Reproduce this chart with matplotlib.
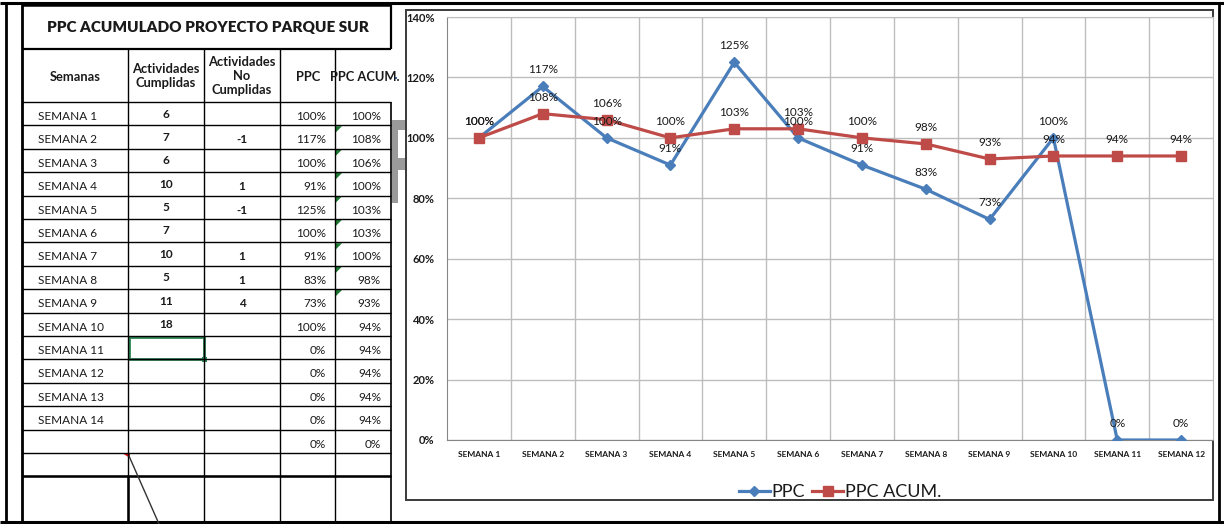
import matplotlib
matplotlib.use("Agg")

import matplotlib.pyplot as plt
from matplotlib.lines import Line2D
from matplotlib.patches import Polygon, Rectangle
from matplotlib.ticker import FuncFormatter

plt.rcParams['font.family'] = ['Lato', 'DejaVu Sans']

# table data (as shown on the sheet)
semanas = ["SEMANA 1", "SEMANA 2", "SEMANA 3", "SEMANA 4", "SEMANA 5", "SEMANA 6", "SEMANA 7",
           "SEMANA 8", "SEMANA 9", "SEMANA 10", "SEMANA 11", "SEMANA 12", "SEMANA 13", "SEMANA 14", ""]
cumplidas = ["6", "7", "6", "10", "5", "7", "10", "5", "11", "18", "", "", "", "", ""]
no_cumplidas = ["", "-1", "", "1", "-1", "", "1", "1", "4", "", "", "", "", "", ""]
ppc_tabla = ["100%", "117%", "100%", "91%", "125%", "100%", "91%", "83%", "73%", "100%",
             "0%", "0%", "0%", "0%", "0%"]
acum_tabla = ["100%", "108%", "106%", "100%", "103%", "103%", "100%", "98%", "93%", "94%",
              "94%", "94%", "94%", "94%", "0%"]

# chart data
categorias = ["SEMANA 1", "SEMANA 2", "SEMANA 3", "SEMANA 4", "SEMANA 5", "SEMANA 6",
              "SEMANA 7", "SEMANA 8", "SEMANA 9", "SEMANA 10", "SEMANA 11", "SEMANA 12"]
ppc = [1.00, 1.17, 1.00, 0.91, 1.25, 1.00, 0.91, 0.83, 0.73, 1.00, 0.0, 0.0]
ppc_acum = [1.00, 1.08, 1.06, 1.00, 1.03, 1.03, 1.00, 0.98, 0.93, 0.94, 0.94, 0.94]

W, H = 1224, 524
BLUE = "#4a7ebb"
RED = "#be4b48"
TXT = "#1a1a1a"

fig = plt.figure(figsize=(W / 100, H / 100), dpi=100)

# overlay in pixel coordinates for the sheet / table
ax0 = fig.add_axes([0, 0, 1, 1])
ax0.set_xlim(0, W)
ax0.set_ylim(H, 0)
ax0.axis("off")


def hline(x0, x1, y, lw=1.0, c="black"):
    ax0.add_line(Line2D([x0, x1], [y, y], lw=lw, color=c, solid_capstyle="butt"))


def vline(x, y0, y1, lw=1.0, c="black"):
    ax0.add_line(Line2D([x, x], [y0, y1], lw=lw, color=c, solid_capstyle="butt"))


# sheet borders
hline(0, W, 3, lw=2.2)
hline(0, W, 522, lw=2.2)
vline(6, 3, 522, lw=2.0)
vline(22, 3, 522, lw=2.0)
vline(1219, 3, 522, lw=2.0)

# table grid
cols = [22, 128, 204, 280, 335, 391]
row_top = 102
row_h = 23.4
n_rows = 16
# title box
hline(22, 391, 5, lw=1.8)
hline(22, 391, 49, lw=1.6)
vline(391, 5, 49, lw=1.6)
# header separators
for x in cols[1:5]:
    vline(x, 49, 522, lw=1.0)
vline(391, row_top, 522, lw=1.2)
for k in range(n_rows + 1):
    hline(22, 391, row_top + k * row_h, lw=1.0)
y_bot = row_top + n_rows * row_h
hline(22, 391, y_bot, lw=1.8)
vline(128, y_bot, 522, lw=1.8)

ax0.text(208, 27, "PPC ACUMULADO PROYECTO PARQUE SUR", fontsize=11, fontweight="heavy",
         ha="center", va="center", color=TXT)
hdr_kw = dict(fontsize=9.3, fontweight="bold", ha="center", va="center", color=TXT,
              linespacing=1.2)
ax0.text(75, 77, "Semanas", **hdr_kw)
ax0.text(166, 76, "Actividades\nCumplidas", **hdr_kw)
ax0.text(242, 76, "Actividades\nNo\nCumplidas", **hdr_kw)
ax0.text(308, 77, "PPC", **hdr_kw)
ax0.text(365, 77, "PPC ACUM.", **hdr_kw)

for i in range(len(semanas)):
    yt = row_top + i * row_h
    ax0.text(38, yt + 14.5, semanas[i], fontsize=8.5, ha="left", va="center", color=TXT)
    ax0.text(166, yt + 12, cumplidas[i], fontsize=8.5, fontweight="bold", ha="center",
             va="center", color=TXT)
    ax0.text(242, yt + 14.5, no_cumplidas[i], fontsize=8.5, fontweight="bold", ha="center",
             va="center", color=TXT)
    ax0.text(326, yt + 14.5, ppc_tabla[i], fontsize=8.5, ha="right", va="center", color=TXT)
    ax0.text(381, yt + 14.5, acum_tabla[i], fontsize=8.5, ha="right", va="center", color=TXT)
    if 1 <= i <= 8:
        ax0.add_patch(Polygon([[336, yt + 0.8], [342, yt + 0.8], [336, yt + 6.8]],
                              closed=True, color="#1e7b34", lw=0))

# selected cell
ax0.add_patch(Rectangle((128.5, row_top + 10 * row_h + 1), 75, row_h - 1.5, fill=False,
                        ec="#2f8555", lw=2.0))
ax0.add_patch(Rectangle((201.5, row_top + 11 * row_h - 2.5), 5, 5, color="#2f8555", lw=0))

# comment marker and arrow
ax0.add_patch(Polygon([[122, row_top + 15 * row_h - 0.5], [130, row_top + 15 * row_h - 0.5],
                       [130, row_top + 15 * row_h + 5]], closed=True, color="#e00000", lw=0))
ax0.add_line(Line2D([129, 159], [456, 524], lw=1.0, color="#333333"))

# grey shape peeking out behind the chart
ax0.add_patch(Polygon([[392, 120], [406, 120], [406, 130], [398, 130], [398, 158], [406, 158],
                       [406, 170], [398, 170], [398, 203], [392, 203]],
                      closed=True, color="#9a9a9a", lw=0))
ax0.add_patch(Rectangle((395, 76.5), 2, 2, color="#3a6fb0", lw=0))

# chart border
ax0.add_patch(Rectangle((406, 10), 1213 - 406, 500 - 10, fill=False, ec="#3a3a3a", lw=1.4))

# chart
px0, px1, py0, py1 = 447, 1213, 17, 440
ax = fig.add_axes([px0 / W, 1 - py1 / H, (px1 - px0) / W, (py1 - py0) / H])
ax.set_facecolor("white")
x = list(range(len(categorias)))
ax.plot(x, ppc, color=BLUE, lw=2.3, marker="D", ms=5.5, mec=BLUE, mfc=BLUE,
        label="PPC", zorder=3)
ax.plot(x, ppc_acum, color=RED, lw=2.3, marker="s", ms=6.5, mec=RED, mfc=RED,
        label="PPC ACUM.", zorder=4)

for xi, v in zip(x, ppc):
    ax.annotate(f"{v * 100:.0f}%", (xi, v), xytext=(0, 12), textcoords="offset points",
                ha="center", va="center", fontsize=8.5, color=TXT, zorder=5)
for xi, v in zip(x, ppc_acum):
    ax.annotate(f"{v * 100:.0f}%", (xi, v), xytext=(0, 12), textcoords="offset points",
                ha="center", va="center", fontsize=8.5, color=TXT, zorder=5)

ax.set_xlim(-0.5, len(categorias) - 0.5)
ax.set_ylim(0, 1.4)
ax.set_yticks([0, 0.2, 0.4, 0.6, 0.8, 1.0, 1.2, 1.4])
ax.yaxis.set_major_formatter(FuncFormatter(lambda v, p: f"{v * 100:.0f}%"))
ax.set_xticks(x)
ax.set_xticklabels(categorias)
ax.set_xticks([i + 0.5 for i in x[:-1]], minor=True)
ax.grid(True, which="major", axis="y", color="#bdbdbd", lw=1.0)
ax.grid(True, which="minor", axis="x", color="#bdbdbd", lw=1.0)
ax.set_axisbelow(True)
ax.tick_params(axis="x", which="both", length=0, pad=8, labelsize=6, labelcolor=TXT)
ax.tick_params(axis="y", length=0, pad=9, labelsize=8, labelcolor=TXT)
for lab in ax.get_xticklabels() + ax.get_yticklabels():
    lab.set_fontweight("bold")
for s in ["top", "right"]:
    ax.spines[s].set_color("#bdbdbd")
ax.spines["left"].set_color("#868686")
ax.spines["bottom"].set_color("#868686")

fig.legend(loc="center", bbox_to_anchor=(840 / W, 1 - 492 / H), ncol=2, frameon=False,
           fontsize=13, handlelength=1.7, handletextpad=0.1, columnspacing=0.4,
           borderpad=0, labelcolor=TXT)

fig.savefig("out.png", dpi=100)
